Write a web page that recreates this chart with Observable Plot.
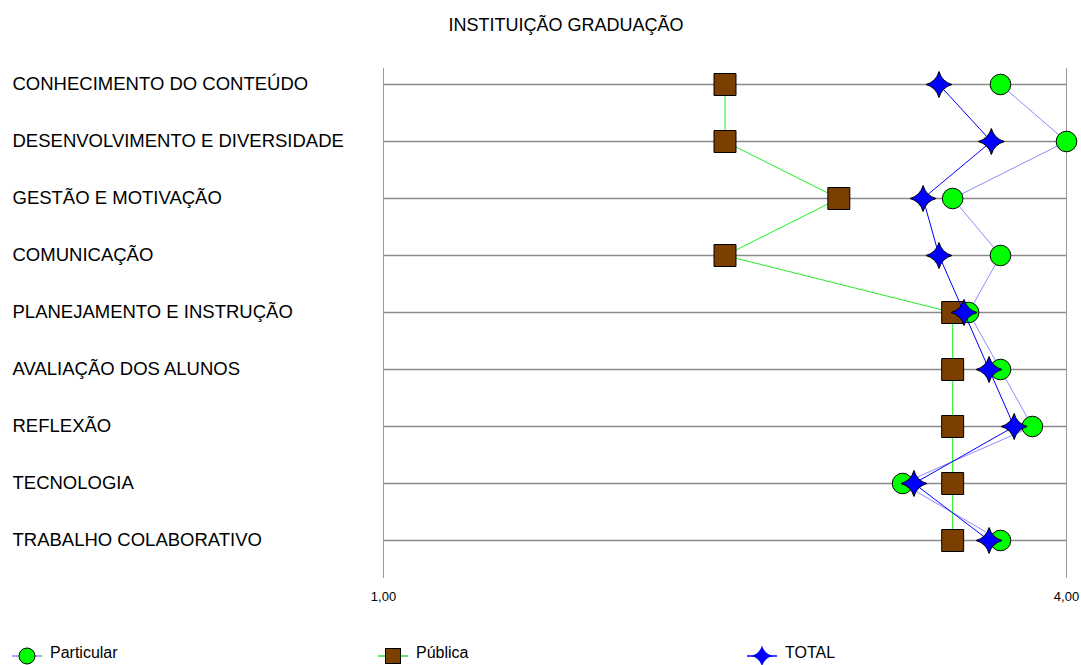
<!DOCTYPE html>
<html><head><meta charset="utf-8">
<script src="https://cdn.jsdelivr.net/npm/d3@7"></script>
<script src="https://cdn.jsdelivr.net/npm/@observablehq/plot@0.6"></script>
<style>
body{margin:0;background:#fff;font-family:"Liberation Sans",Arial,sans-serif;overflow:hidden}
#title{box-sizing:border-box;width:1081px;height:50px;padding-left:51px;text-align:center;line-height:50px;font-size:18px;color:#000}
svg{display:block}
</style></head><body>
<div id="title">INSTITUIÇÃO GRADUAÇÃO</div>
<div id="chart"></div>
<div id="legend"></div>
<script>
const categories = [
  "CONHECIMENTO DO CONTEÚDO",
  "DESENVOLVIMENTO E DIVERSIDADE",
  "GESTÃO E MOTIVAÇÃO",
  "COMUNICAÇÃO",
  "PLANEJAMENTO E INSTRUÇÃO",
  "AVALIAÇÃO DOS ALUNOS",
  "REFLEXÃO",
  "TECNOLOGIA",
  "TRABALHO COLABORATIVO"
];
const particular = [3.71, 4.00, 3.50, 3.71, 3.57, 3.71, 3.85, 3.28, 3.71];
const publica    = [2.50, 2.50, 3.00, 2.50, 3.50, 3.50, 3.50, 3.50, 3.50];
const total      = [3.44, 3.67, 3.37, 3.44, 3.55, 3.66, 3.77, 3.33, 3.66];
const xTicks = [1, 4];
const seriesNames = ["Particular", "Pública", "TOTAL"];

const colors = {
  particularLine: "#8c8cff", particularFill: "#00ff00",
  publicaLine: "#22ee22", publicaFill: "#7b3f00",
  totalLine: "#0000ff", totalFill: "#0000ff"
};

const star4 = {
  draw(ctx, size) {
    const R = Math.sqrt(size / Math.PI);
    const c = 0.22 * R;
    ctx.moveTo(0, -R);
    ctx.quadraticCurveTo(c, -c, R, 0);
    ctx.quadraticCurveTo(c, c, 0, R);
    ctx.quadraticCurveTo(-c, c, -R, 0);
    ctx.quadraticCurveTo(-c, -c, 0, -R);
    ctx.closePath();
  }
};

const data = categories.map((c, i) => ({cat: c, particular: particular[i], publica: publica[i], total: total[i]}));

const chart = Plot.plot({
  width: 1081, height: 575,
  marginLeft: 383, marginRight: 15, marginTop: 18, marginBottom: 47,
  x: {domain: [1, 4]},
  y: {type: "point", domain: categories, range: [32, 492], padding: 0, axis: null},
  style: {fontFamily: "'Liberation Sans', Arial, sans-serif", fontSize: "13px", color: "#000", background: "#fff"},
  marks: [
    Plot.ruleY(categories, {y: d => d, stroke: "#8a8a8a", strokeWidth: 1.3}),
    Plot.ruleX(xTicks, {x: d => d, stroke: "#9a9a9a", strokeWidth: 1}),
    Plot.axisX({ticks: xTicks, tickSize: 0, tickPadding: 13, label: null, tickFormat: d => d.toFixed(2).replace(".", ","), fontSize: 13}),
    Plot.text(categories, {y: d => d, text: d => d, frameAnchor: "left", dx: -371, textAnchor: "start", fontSize: 18.5, fill: "#000"}),
    Plot.line(data, {x: "particular", y: "cat", stroke: colors.particularLine, strokeWidth: 1}),
    Plot.dot(data, {x: "particular", y: "cat", r: 10.3, fill: colors.particularFill, stroke: "#000", strokeWidth: 1}),
    Plot.line(data, {x: "publica", y: "cat", stroke: colors.publicaLine, strokeWidth: 1}),
    Plot.dot(data, {x: "publica", y: "cat", symbol: "square", r: 12.4, fill: colors.publicaFill, stroke: "#000", strokeWidth: 1}),
    Plot.line(data, {x: "total", y: "cat", stroke: colors.totalLine, strokeWidth: 1}),
    Plot.dot(data, {x: "total", y: "cat", symbol: star4, r: 13, fill: colors.totalFill, stroke: "#000", strokeWidth: 1})
  ]
});
document.getElementById("chart").append(chart);

// legend
const legendX = [27, 393, 762];
const leg = d3.create("svg").attr("width", 1081).attr("height", 40)
  .style("font-family", "'Liberation Sans', Arial, sans-serif").style("font-size", "16px");
const lineCols = [colors.particularLine, colors.publicaLine, colors.totalLine];
seriesNames.forEach((name, i) => {
  const g = leg.append("g").attr("transform", `translate(${legendX[i]},31)`);
  g.append("line").attr("x1", -15).attr("x2", 15).attr("stroke", lineCols[i]).attr("stroke-width", 1.5);
  if (i === 0) g.append("circle").attr("r", 8).attr("fill", colors.particularFill).attr("stroke", "#000");
  if (i === 1) g.append("rect").attr("x", -7.5).attr("y", -7.5).attr("width", 15).attr("height", 15).attr("fill", colors.publicaFill).attr("stroke", "#000");
  if (i === 2) g.append("path").attr("d", d3.symbol(star4, Math.PI * 10.5 * 10.5)()).attr("fill", colors.totalFill);
  g.append("text").attr("x", 23).attr("y", 2).text(name);
});
document.getElementById("legend").append(leg.node());
</script>
</body></html>
